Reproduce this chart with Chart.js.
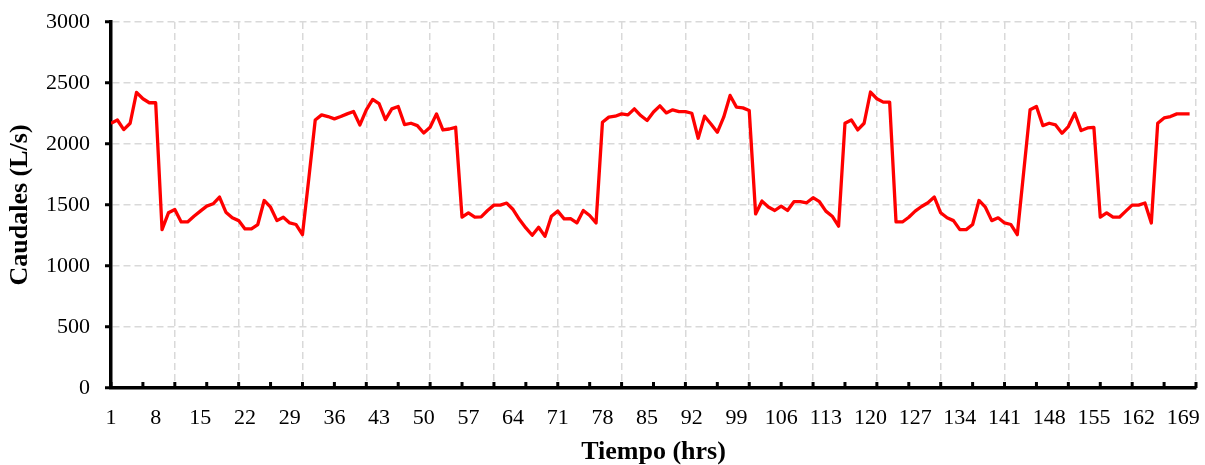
<!DOCTYPE html>
<html>
<head>
<meta charset="utf-8">
<script src="https://cdn.jsdelivr.net/npm/chart.js@4.4.1/dist/chart.umd.min.js"></script>
<style>
  html, body { margin: 0; padding: 0; background: #fff; }
  #wrap { width: 1205px; height: 465px; }
</style>
</head>
<body>
<div id="wrap"><canvas id="caudalesChart" width="1205" height="465"></canvas></div>
<script>
"use strict";

// horas 1..170 (eje de categorias)
const horas = Array.from({ length: 170 }, (_, i) => i + 1);

// caudal (L/s)
const caudales = [
  2170, 2197, 2118, 2170, 2423, 2371, 2338, 2338, 1298, 1436,
  1463, 1361, 1361, 1408, 1450, 1491, 1510, 1565, 1441, 1395,
  1372, 1304, 1304, 1340, 1537, 1482, 1372, 1400, 1353, 1340,
  1257, 1720, 2197, 2239, 2225, 2206, 2225, 2247, 2266, 2156,
  2280, 2365, 2330, 2200, 2288, 2307, 2159, 2170, 2151, 2090,
  2137, 2247, 2115, 2123, 2137, 1400, 1436, 1400, 1403, 1455,
  1499, 1499, 1516, 1463, 1381, 1312, 1252, 1318, 1243, 1408,
  1450, 1386, 1389, 1353, 1455, 1414, 1353, 2178, 2220, 2228,
  2247, 2239, 2288, 2233, 2192, 2262, 2313, 2255, 2280, 2266,
  2266, 2252, 2047, 2228, 2164, 2096, 2220, 2398, 2302, 2296,
  2274, 1427, 1532, 1483, 1455, 1491, 1455, 1527, 1527, 1518,
  1560, 1527, 1450, 1408, 1326, 2170, 2197, 2115, 2170, 2426,
  2371, 2343, 2343, 1361, 1361, 1400, 1450, 1488, 1518, 1565,
  1436, 1395, 1372, 1298, 1298, 1340, 1537, 1482, 1372, 1395,
  1353, 1340, 1257, 1770, 2280, 2307, 2151, 2170, 2156, 2088,
  2143, 2252, 2110, 2132, 2137, 1400, 1436, 1400, 1400, 1450,
  1499, 1499, 1516, 1353, 2170, 2214, 2225, 2247, 2247, 2247
];

const etiquetasHora = [1, 8, 15, 22, 29, 36, 43, 50, 57, 64, 71, 78, 85, 92, 99,
  106, 113, 120, 127, 134, 141, 148, 155, 162, 169];
const lineasHora = [11, 21, 31, 41, 51, 61, 71, 81, 91, 101, 111, 121, 131, 141,
  151, 161, 171];
const ticksCaudal = [0, 500, 1000, 1500, 2000, 2500, 3000];

const serif = '"Times New Roman", "Liberation Serif", serif';

// marcas cortas hacia dentro sobre el eje x (cada 5 horas)
const marcasEje = {
  id: "marcasEje",
  afterDraw(chart) {
    const { ctx, chartArea, scales } = chart;
    ctx.save();
    ctx.strokeStyle = "#000";
    ctx.lineWidth = 3;
    for (let h = 1; h <= 171; h += 5) {
      const x = scales.x.getPixelForValue(h);
      ctx.beginPath();
      ctx.moveTo(x, chartArea.bottom);
      ctx.lineTo(x, chartArea.bottom - 6);
      ctx.stroke();
    }
    ctx.restore();
  },
};

const canvas = document.querySelector("canvas#caudalesChart");
const chart = new Chart(canvas, {
  type: "line",
  data: {
    datasets: [
      {
        data: horas.map((h, i) => ({ x: h, y: caudales[i] })),
        borderColor: "#ff0000",
        borderWidth: 3.3,
        borderJoinStyle: "round",
        pointRadius: 0,
        tension: 0,
        fill: false,
      },
    ],
  },
  options: {
    responsive: false,
    animation: false,
    devicePixelRatio: 1,
    layout: { padding: { top: 22, right: 9, left: 0, bottom: 0 } },
    plugins: {
      legend: { display: false },
      tooltip: { enabled: false },
    },
    scales: {
      x: {
        type: "linear",
        min: 1,
        max: 171,
        afterFit: (s) => {
          s.height = 77;
          s.paddingLeft = 0;
          s.paddingRight = 0;
        },
        afterBuildTicks: (s) => {
          const vals = Array.from(new Set([...etiquetasHora, ...lineasHora])).sort((a, b) => a - b);
          s.ticks = vals.map((v) => ({ value: v }));
        },
        border: { display: true, color: "#000", width: 3.5, dash: [7, 4] },
        grid: {
          drawTicks: false,
          lineWidth: 1.5,
          color: (c) => (c.tick && lineasHora.includes(c.tick.value) ? "#d9d9d9" : "rgba(0,0,0,0)"),
        },
        ticks: {
          autoSkip: false,
          maxRotation: 0,
          padding: 17,
          color: "#000",
          font: { family: serif, size: 22 },
          callback: (v) => (etiquetasHora.includes(v) ? String(v) : ""),
        },
        title: {
          display: true,
          text: "Tiempo (hrs)",
          color: "#000",
          font: { family: serif, size: 26, weight: "bold", lineHeight: 1 },
          padding: { top: 0, bottom: 0 },
        },
      },
      y: {
        min: 0,
        max: 3000,
        afterFit: (s) => {
          s.width = 111;
          s.paddingTop = 0;
          s.paddingBottom = 0;
        },
        afterBuildTicks: (s) => {
          s.ticks = ticksCaudal.map((v) => ({ value: v }));
        },
        border: { display: true, color: "#000", width: 3.5, dash: [7, 4] },
        grid: {
          lineWidth: 1.5,
          color: (c) => (c.tick && c.tick.value === 0 ? "rgba(0,0,0,0)" : "#d9d9d9"),
          drawTicks: true,
          tickLength: 6,
          tickColor: "#000",
          tickWidth: 3,
          tickBorderDash: [],
        },
        ticks: {
          padding: 15,
          color: "#000",
          font: { family: serif, size: 22 },
          callback: (v) => String(v),
        },
        title: {
          display: true,
          text: "Caudales (L/s)",
          color: "#000",
          font: { family: serif, size: 26, weight: "bold", lineHeight: 1 },
          padding: { top: 7, bottom: 0 },
        },
      },
    },
  },
  plugins: [marcasEje],
});
</script>
</body>
</html>
